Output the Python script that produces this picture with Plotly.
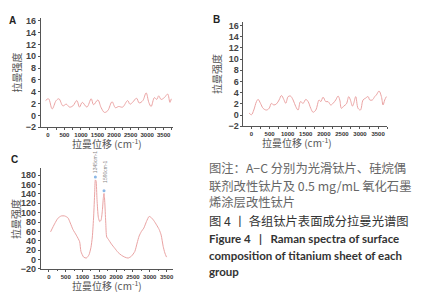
import plotly.graph_objects as go

W, H = 425, 300
OFF = 8  # page body margin of the browser

# ---------------- data ----------------
a_x = [-70, 20, 130, 250, 335, 455, 555, 655, 755, 875, 955, 1040, 1180, 1310, 1380, 1510,
       1610, 1710, 1810, 1940, 2040, 2140, 2260, 2410, 2480, 2560, 2680, 2760, 2870, 2970,
       3050, 3120, 3220, 3290, 3350, 3420, 3520, 3620, 3690, 3730]
a_y = [2.5, 2.8, 1.1, 2.5, 2.8, 1.6, 1.9, 1.4, 1.6, 2.5, 1.4, 2.2, 1.4, 2.8, 1.8, 2.6,
       1.3, 0.5, 0.8, 2.3, 1.3, 1.5, 1.4, 2.5, 1.9, 2.2, 2.9, 2.1, 2.5, 3.8,
       2.2, 1.5, 3.0, 2.7, 3.3, 2.7, 3.0, 3.6, 2.2, 2.8]

b_x = [-64, 0, 64, 138, 184, 249, 322, 414, 488, 553, 617, 691, 764, 829, 893, 949, 1013,
       1078, 1151, 1225, 1289, 1354, 1428, 1501, 1566, 1639, 1704, 1778, 1870, 1916, 1980,
       2054, 2118, 2192, 2256, 2330, 2395, 2441, 2487, 2551, 2625, 2689, 2735, 2791, 2827,
       2883, 2947, 3012, 3085, 3150, 3224, 3270, 3343, 3408, 3454, 3527, 3592, 3638, 3684, 3730]
b_y = [0.35, 0.06, 0.9, 2.4, 2.8, 2.1, 1.2, 0.9, 1.2, 2.1, 1.8, 2.0, 2.7, 3.5, 2.8, 2.1, 3.3,
       3.4, 2.7, 1.5, 0.9, 2.4, 2.1, 2.8, 2.4, 1.2, 0.5, 0.9, 2.7, 2.4, 3.2,
       2.4, 2.4, 1.8, 2.1, 2.7, 3.4, 2.7, 1.2, 1.6, 2.0, 3.3, 2.7, 1.6, 2.1,
       3.3, 1.2, 0.9, 2.7, 3.0, 3.3, 2.7, 2.7, 3.3, 3.6, 4.3, 3.3, 1.8, 2.7, 3.3]

c_x = [50, 169, 268, 368, 467, 567, 636, 716, 815, 914, 954, 1034, 1113, 1193, 1252, 1292,
       1332, 1362, 1382, 1402, 1431, 1471, 1511, 1551, 1590, 1620, 1640, 1660, 1690, 1720,
       1769, 1859, 1958, 2058, 2157, 2256, 2356, 2455, 2555, 2624, 2684, 2753, 2823, 2902,
       2982, 3052, 3121, 3201, 3280, 3340, 3399, 3449, 3499]
c_y = [59, 76, 88, 93, 93, 89, 78, 64, 52, 38, 17, 5, 3, 10, 26, 48,
       93, 142, 170, 168, 128, 90, 81, 84, 104, 132, 141, 125, 80, 48,
       43, 33, 24, 15, 9, 5, 3, 7, 17, 35, 50, 60, 67, 81,
       92, 89, 83, 74, 64, 52, 28, 14, 5]

peak_x = [1382, 1640]
peak_y = [176, 147]
peak_labels = ["1345cm-1", "1590cm-1"]

x_ticks = [0, 500, 1000, 1500, 2000, 2500, 3000, 3500]
ab_yticks = [-2, 0, 2, 4, 6, 8, 10, 12, 14, 16]
c_yticks = [-20, 0, 20, 40, 60, 80, 100, 120, 140, 160, 180]

y_title = "拉曼强度"
x_title = "拉曼位移 (cm<sup>-1</sup>)"

caption_cn = ["图注：A−C 分别为光滑钛片、硅烷偶",
              "联剂改性钛片及 0.5 mg/mL 氧化石墨",
              "烯涂层改性钛片"]
caption_fig = "图 4 丨 各组钛片表面成分拉曼光谱图"
caption_en = ["Figure 4\u00a0\u00a0\u00a0|\u00a0\u00a0\u00a0Raman spectra of surface",
              "composition of titanium sheet of each",
              "group"]

# ---------------- figure ----------------
LINE = dict(color="#eaa3a3", width=1)
fig = go.Figure()
fig.add_trace(go.Scatter(x=a_x, y=a_y, mode="lines", line=dict(shape="spline", **LINE),
                         xaxis="x", yaxis="y"))
fig.add_trace(go.Scatter(x=b_x, y=b_y, mode="lines", line=dict(shape="spline", **LINE),
                         xaxis="x2", yaxis="y2"))
fig.add_trace(go.Scatter(x=c_x, y=c_y, mode="lines", line=dict(shape="spline", smoothing=0.6, **LINE),
                         xaxis="x3", yaxis="y3"))
fig.add_trace(go.Scatter(x=peak_x, y=peak_y, mode="markers",
                         marker=dict(color="#8ab8e6", size=3, symbol="circle"),
                         xaxis="x3", yaxis="y3", cliponaxis=False))


def px(v):
    return (v - OFF) / W


def py(v):
    return 1 - (v - OFF) / H


axcommon = dict(showgrid=False, zeroline=False, showline=True, linecolor="#555",
                linewidth=1, ticks="outside", ticklen=2, tickcolor="#555")
xcommon = dict(axcommon, tickvals=x_ticks,
               tickfont=dict(size=6, color="#333", family="Liberation Sans", weight="bold"),
               minor=dict(ticks="outside", ticklen=1.5, dtick=250, tickcolor="#555"))
ycommon = dict(axcommon, tickfont=dict(size=9, color="#444", family="Liberation Sans", weight="bold"))

fig.update_layout(
    width=W, height=H, margin=dict(l=0, r=0, t=0, b=0),
    paper_bgcolor="white", plot_bgcolor="white", showlegend=False,
    xaxis=dict(xcommon, domain=[px(41), px(173)], range=[-210, 3770], anchor="y"),
    yaxis=dict(ycommon, domain=[py(128), py(16)], range=[-2, 16.5], tickvals=ab_yticks,
               ticktext=[("\u22122" if v == -2 else str(v)) for v in ab_yticks], anchor="x"),
    xaxis2=dict(xcommon, domain=[px(244), px(388)], range=[-222, 3750], anchor="y2"),
    yaxis2=dict(ycommon, domain=[py(127), py(20)], range=[-2, 16.7], tickvals=ab_yticks,
                ticktext=[("\u22122" if v == -2 else str(v)) for v in ab_yticks], anchor="x2"),
    xaxis3=dict(xcommon, domain=[px(41), px(173)], range=[-237, 3680], anchor="y3"),
    yaxis3=dict(ycommon, domain=[py(273), py(170)], range=[-20, 195], tickvals=c_yticks,
                ticktext=[("\u221220" if v == -20 else str(v)) for v in c_yticks], anchor="x3"),
)

ann = []
CJK = "Noto Sans CJK SC"


def note(text, x, y, size, color, family, angle=0, xanchor="center"):
    ann.append(dict(text=text, x=px(x), y=py(y), xref="paper", yref="paper",
                    xanchor=xanchor, yanchor="middle", textangle=angle, showarrow=False,
                    font=dict(size=size, color=color, family=family)))


# panel letters
for t, x, y in [("A", 13, 19), ("B", 217, 18), ("C", 15, 161)]:
    note(f"<b>{t}</b>", x, y, 10, "#222", "Liberation Sans")
# axis titles
for x, y in [(17, 72), (217, 74), (15, 222)]:
    note(y_title, x, y, 10, "#555", CJK, angle=-90)
for x, y in [(107, 145), (298, 144), (107, 290)]:
    note(x_title, x, y, 10, "#555", CJK)
# peak labels (vertical, above the peaks)
for t, x, y in zip(peak_labels, [96, 105], [164, 174]):
    note(t, x, y, 5, "#888", "Liberation Sans", angle=-90)
# caption
for t, y in zip(caption_cn, [170, 188, 205]):
    note(t, 207, y, 12.3, "#666", CJK, xanchor="left")
note(caption_fig, 207, 224, 12.3, "#333", CJK, xanchor="left")
for t, y in zip(caption_en, [242, 259, 276]):
    note(f"<b>{t}</b>", 207, y, 11.5, "#333", "Lato", xanchor="left")
fig.update_layout(annotations=ann)

fig.write_html("out.html")
